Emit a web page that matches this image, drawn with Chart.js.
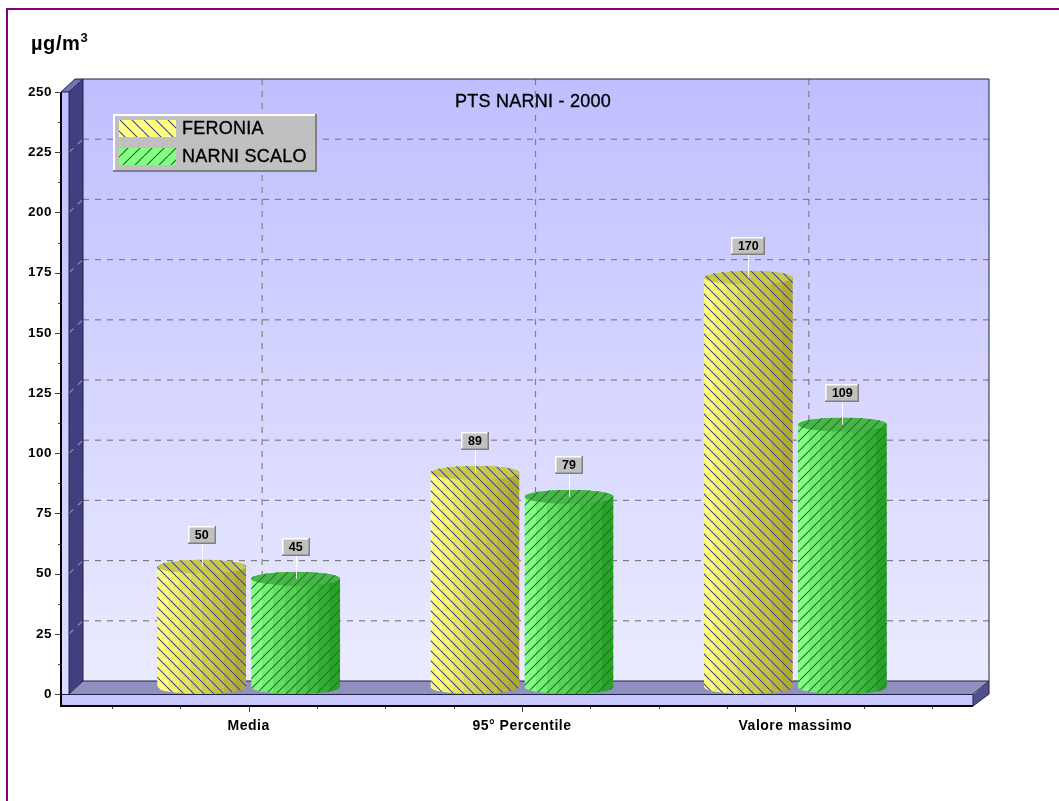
<!DOCTYPE html>
<html>
<head>
<meta charset="utf-8">
<script src="https://cdn.jsdelivr.net/npm/chart.js@4/dist/chart.umd.min.js"></script>
<style>
  html, body { margin: 0; padding: 0; background: #fff; overflow: hidden; }
  #frame { position: absolute; left: 6px; top: 8px; width: 1059px; height: 801px; border-left: 2px solid #800080; border-top: 2px solid #800080; }
  #unit { position: absolute; left: 31px; top: 32px; font: bold 20px "Liberation Sans", sans-serif; letter-spacing: 0.6px; color: #000; }
  #unit sup { font-size: 13px; line-height: 0; }
  canvas { position: absolute; left: 0; top: 0; }
</style>
</head>
<body>
<canvas id="chart" width="1059" height="801"></canvas>
<div id="frame"></div>
<div id="unit">µg/m<sup>3</sup></div>
<script>
const chartTitle = 'PTS NARNI - 2000';
const categories = ['Media', '95° Percentile', 'Valore massimo'];
const seriesNames = ['FERONIA', 'NARNI SCALO'];
const feroniaValues = [50, 89, 170];
const narniScaloValues = [45, 79, 109];

const hatchEdges = ['#6a6a80', '#4f6a50'];
const hatchCores = ['#1c1c80', '#802050'];
const bodyColors = [
  ['#ffff80', '#f4f470', '#e6e664', '#d8d858', '#cccc4c', '#c4c044', '#bab43a', '#b0aa30'],
  ['#80ff80', '#70f070', '#60e060', '#54d454', '#48c848', '#3cbc3c', '#30b030', '#24a424']
];
const capColors = ['#c8c84c', '#44b844'];

// 3d box around the plot, in px from the chart area
const depthX = 22;
const depthY = 13;
const frontLeft = 51;
const frontRight = 41;

function hatchPattern(ctx, series, size) {
  const tile = document.createElement('canvas');
  tile.width = tile.height = size;
  const t = tile.getContext('2d');
  [[hatchEdges[series], 1.2], [hatchCores[series], 0.5]].forEach(pass => {
    t.strokeStyle = pass[0];
    t.lineWidth = pass[1];
    for (let k = -size; k <= size; k += size) {
      t.beginPath();
      if (series === 1) {
        t.moveTo(k, size);
        t.lineTo(k + size, 0);
      } else {
        t.moveTo(k, 0);
        t.lineTo(k + size, size);
      }
      t.stroke();
    }
  });
  return ctx.createPattern(tile, 'repeat');
}

function bevelBox(ctx, x, y, w, h, size) {
  ctx.fillStyle = '#c0c0c0';
  ctx.fillRect(x, y, w, h);
  ctx.fillStyle = '#fff';
  ctx.fillRect(x, y, w, size);
  ctx.fillRect(x, y, size, h);
  ctx.fillStyle = '#808080';
  ctx.fillRect(x, y + h - size, w, size);
  ctx.fillRect(x + w - size, y, size, h);
}

function poly(ctx, color, points) {
  ctx.fillStyle = color;
  ctx.beginPath();
  points.forEach((p, i) => i ? ctx.lineTo(p[0], p[1]) : ctx.moveTo(p[0], p[1]));
  ctx.closePath();
  ctx.fill();
}

// slightly heavier text, the original is a resampled bitmap
function heavyText(ctx, text, x, y) {
  ctx.strokeStyle = ctx.fillStyle;
  ctx.lineWidth = 0.35;
  ctx.strokeText(text, x, y);
  ctx.fillText(text, x, y);
}

const plot3d = {
  id: 'plot3d',
  beforeDraw(chart) {
    chart.ctx.letterSpacing = '0.5px';
  },
  beforeDatasetsDraw(chart) {
    const ctx = chart.ctx;
    const area = chart.chartArea;
    const yScale = chart.scales.y;
    const xScale = chart.scales.x;
    const zero = yScale.getPixelForValue(0);
    const top = yScale.getPixelForValue(250);
    const left = area.left - frontLeft;
    const right = area.right + frontRight;
    const wallLeft = left + depthX;
    const wallRight = right + 16;
    const wallTop = top - depthY;
    const wallBottom = zero - depthY;
    const postRight = left + 8;

    ctx.save();
    ctx.letterSpacing = '0px';

    // back wall
    const wall = ctx.createLinearGradient(0, wallTop, 0, wallBottom);
    wall.addColorStop(0, '#bfbfff');
    wall.addColorStop(1, '#ebebff');
    ctx.fillStyle = wall;
    ctx.fillRect(wallLeft, wallTop, wallRight - wallLeft, wallBottom - wallTop);

    // left wall, floor and right side
    poly(ctx, '#404080', [[postRight, top], [wallLeft, wallTop], [wallLeft, wallBottom], [postRight, zero]]);
    poly(ctx, '#7474b4', [[left, top], [postRight, top], [wallLeft, wallTop], [left + 14, wallTop]]);
    poly(ctx, '#9090c0', [[postRight, zero], [wallLeft, wallBottom], [wallRight, wallBottom], [right, zero]]);
    poly(ctx, '#505090', [[right, zero + 1], [wallRight, wallBottom], [wallRight, wallBottom + 13], [right, 706]]);

    // front post and front floor strip
    const post = ctx.createLinearGradient(0, top, 0, zero);
    post.addColorStop(0, '#bfbfff');
    post.addColorStop(1, '#dcdcff');
    ctx.fillStyle = post;
    ctx.fillRect(left, top, 8, zero - top);
    ctx.fillStyle = '#c8c8ff';
    ctx.fillRect(left, zero, right - left, 706 - zero);

    // grid on the walls
    ctx.lineWidth = 1.2;
    ctx.setLineDash([6, 6]);
    yScale.ticks.forEach(tick => {
      const y = yScale.getPixelForValue(tick.value);
      if (tick.value > 0 && tick.value < 250) {
        ctx.strokeStyle = '#808080';
        ctx.beginPath();
        ctx.moveTo(wallLeft, y - depthY);
        ctx.lineTo(wallRight, y - depthY);
        ctx.stroke();
        ctx.strokeStyle = '#8a8ab8';
        ctx.beginPath();
        ctx.moveTo(postRight, y);
        ctx.lineTo(wallLeft, y - depthY);
        ctx.stroke();
      }
    });
    ctx.strokeStyle = '#808080';
    categories.forEach((c, i) => {
      const x = xScale.getPixelForValue(i) + 13.5;
      ctx.beginPath();
      ctx.moveTo(x, wallTop);
      ctx.lineTo(x, wallBottom);
      ctx.stroke();
    });
    ctx.setLineDash([]);

    // outlines
    ctx.strokeStyle = '#202040';
    ctx.lineWidth = 1;
    ctx.beginPath();
    ctx.moveTo(wallLeft, wallBottom);
    ctx.lineTo(wallLeft, wallTop);
    ctx.lineTo(wallRight, wallTop);
    ctx.lineTo(wallRight, wallBottom + 13);
    ctx.lineTo(right, 706);
    ctx.moveTo(wallLeft, wallBottom);
    ctx.lineTo(wallRight, wallBottom);
    ctx.moveTo(left, zero + 0.5);
    ctx.lineTo(right, zero + 0.5);
    ctx.moveTo(right, zero);
    ctx.lineTo(wallRight, wallBottom);
    ctx.moveTo(postRight, top);
    ctx.lineTo(postRight, zero);
    ctx.lineTo(wallLeft, wallBottom);
    ctx.moveTo(left, top);
    ctx.lineTo(left + 14, wallTop);
    ctx.lineTo(wallLeft, wallTop);
    ctx.moveTo(left, top);
    ctx.lineTo(postRight, top);
    ctx.lineTo(wallLeft, wallTop);
    ctx.moveTo(right, zero);
    ctx.lineTo(right, 706);
    ctx.stroke();

    ctx.strokeStyle = '#000';
    ctx.lineWidth = 2;
    ctx.beginPath();
    ctx.moveTo(left, top);
    ctx.lineTo(left, 706);
    ctx.lineTo(right, 706);
    ctx.stroke();

    // axis tick marks
    ctx.strokeStyle = '#404040';
    ctx.lineWidth = 1;
    ctx.beginPath();
    for (let v = 0; v <= 250; v += 12.5) {
      const y = Math.round(yScale.getPixelForValue(v)) + 0.5;
      ctx.moveTo(v % 25 === 0 ? left - 6 : left - 3, y);
      ctx.lineTo(left, y);
    }
    for (let v = -0.5; v <= 2.5; v += 0.25) {
      const x = Math.round(xScale.getPixelForValue(v)) + 0.5;
      ctx.moveTo(x, 707);
      ctx.lineTo(x, v % 1 === 0 ? 712 : 709);
    }
    ctx.stroke();

    // title
    ctx.fillStyle = '#000';
    ctx.font = '18px "Liberation Sans", sans-serif';
    ctx.letterSpacing = '0.25px';
    ctx.textAlign = 'center';
    ctx.textBaseline = 'middle';
    heavyText(ctx, chartTitle, 533, 102);

    // legend
    bevelBox(ctx, 113, 114, 204, 58, 2);
    seriesNames.forEach((name, i) => {
      const y = 120 + i * 28;
      ctx.fillStyle = bodyColors[i][0];
      ctx.fillRect(119, y, 57, 17);
      ctx.fillStyle = hatchPattern(ctx, i, 12);
      ctx.fillRect(119, y, 57, 17);
      ctx.fillStyle = '#000';
      ctx.textAlign = 'left';
      heavyText(ctx, name, 182, y + 9);
    });
    ctx.restore();
  },
  beforeDatasetDraw(chart, args) {
    const ctx = chart.ctx;
    const i = args.index;
    args.meta.data.forEach(bar => {
      const half = bar.width / 2;
      const rx = half;
      const ry = 7;
      const cx = bar.x;
      const topY = bar.y - ry;
      const botY = bar.base - ry;

      ctx.save();
      ctx.beginPath();
      ctx.moveTo(cx - half, topY);
      ctx.lineTo(cx - half, botY);
      ctx.ellipse(cx, botY, rx, ry, 0, Math.PI, 0, true);
      ctx.lineTo(cx + half, topY);
      ctx.ellipse(cx, topY, rx, ry, 0, 0, Math.PI, true);
      ctx.closePath();
      ctx.clip();

      // facets, light on the left side
      const colors = bodyColors[i];
      const body = ctx.createLinearGradient(cx - half, 0, cx + half, 0);
      colors.forEach((c, k) => {
        body.addColorStop(k / colors.length, c);
        body.addColorStop((k + 1) / colors.length, c);
      });
      ctx.fillStyle = body;
      ctx.fillRect(cx - half, topY - ry, bar.width, botY - topY + 2 * ry + 2);

      ctx.fillStyle = capColors[i];
      ctx.beginPath();
      ctx.ellipse(cx, topY, rx, ry, 0, 0, Math.PI * 2);
      ctx.fill();

      ctx.fillStyle = hatchPattern(ctx, i, 10);
      ctx.fillRect(cx - half, topY - ry, bar.width, botY - topY + 2 * ry + 2);
      ctx.restore();
    });
    return false;
  },
  afterDatasetsDraw(chart) {
    const ctx = chart.ctx;
    ctx.save();
    ctx.letterSpacing = '0px';
    ctx.font = 'bold 12.5px "Liberation Sans", sans-serif';
    ctx.textAlign = 'center';
    ctx.textBaseline = 'middle';
    chart.data.datasets.forEach((ds, i) => {
      chart.getDatasetMeta(i).data.forEach((bar, k) => {
        const text = String(ds.data[k]);
        const w = text.length > 2 ? 34 : 28;
        const cy = Math.round(bar.y - 39);
        ctx.strokeStyle = '#fff';
        ctx.lineWidth = 1;
        ctx.beginPath();
        ctx.moveTo(Math.round(bar.x) + 0.5, cy);
        ctx.lineTo(Math.round(bar.x) + 0.5, bar.y - 7);
        ctx.stroke();
        bevelBox(ctx, Math.round(bar.x - w / 2), cy - 9, w, 18, 1.5);
        ctx.fillStyle = '#000';
        ctx.fillText(text, bar.x, cy + 1);
      });
    });
    ctx.restore();
  }
};

new Chart(document.getElementById('chart').getContext('2d'), {
  type: 'bar',
  plugins: [plot3d],
  data: {
    labels: categories,
    datasets: [
      {
        label: seriesNames[0],
        data: feroniaValues,
        backgroundColor: '#e6e664',
        categoryPercentage: 0.688,
        barPercentage: 0.947
      },
      {
        label: seriesNames[1],
        data: narniScaloValues,
        backgroundColor: '#54d454',
        categoryPercentage: 0.688,
        barPercentage: 0.947
      }
    ]
  },
  options: {
    responsive: false,
    animation: false,
    layout: {
      padding: { top: 92, right: 127, bottom: 0, left: 0 }
    },
    scales: {
      x: {
        afterFit: scale => { scale.height = 107; },
        grid: { display: false },
        border: { display: false },
        ticks: {
          padding: 16,
          maxRotation: 0,
          color: '#000',
          font: { family: '"Liberation Sans", sans-serif', size: 14, weight: 'bold' }
        }
      },
      y: {
        min: 0,
        max: 250,
        afterFit: scale => { scale.width = 112; },
        grid: { display: false },
        border: { display: false },
        ticks: {
          stepSize: 25,
          padding: 52,
          color: '#000',
          font: { family: '"Liberation Sans", sans-serif', size: 13.5, weight: 'bold' }
        }
      }
    },
    plugins: {
      legend: { display: false },
      tooltip: { enabled: false }
    }
  }
});
</script>
</body>
</html>
